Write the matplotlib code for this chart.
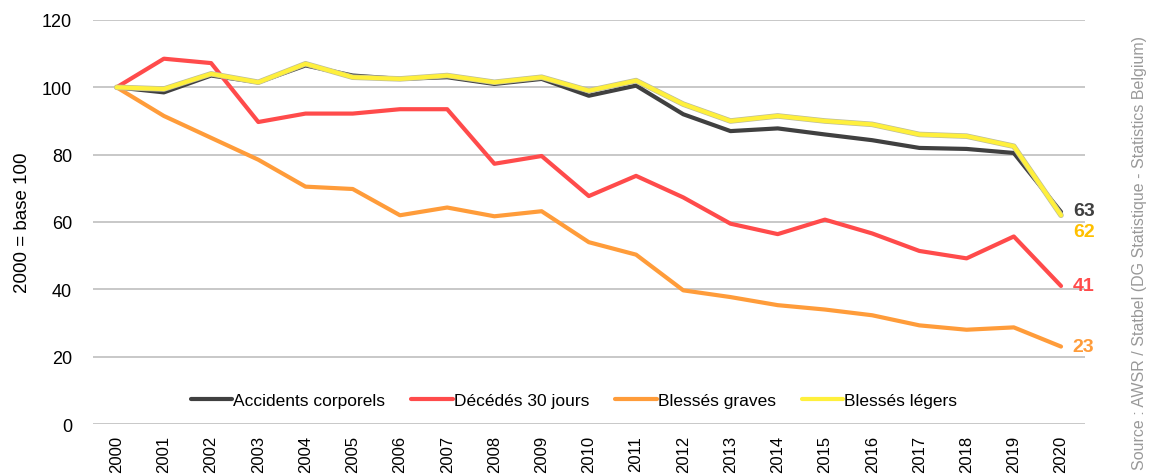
import matplotlib.pyplot as plt
import numpy as np

plt.rcParams['font.family'] = ['Liberation Sans', 'DejaVu Sans']

annees = np.arange(2000, 2021)
accidents = [100, 98.5, 103.5, 101.5, 106.5, 103.5, 102.5, 103, 101, 102.5, 97.5,
             100.5, 92, 87, 87.8, 86, 84.3, 82, 81.7, 80.5, 63]
decedes = [100, 108.5, 107.2, 89.7, 92.2, 92.2, 93.5, 93.5, 77.3, 79.6, 67.7,
           73.7, 67.3, 59.5, 56.4, 60.7, 56.6, 51.4, 49.2, 55.7, 41]
graves = [100, 91.5, 85, 78.5, 70.5, 69.8, 62, 64.3, 61.7, 63.2, 54,
          50.3, 39.7, 37.7, 35.3, 34, 32.3, 29.3, 28, 28.7, 23]
legers = [100, 99.5, 104, 101.5, 107, 103, 102.5, 103.5, 101.5, 103, 99,
          102, 95, 90, 91.5, 90, 89, 86, 85.5, 82.5, 62]

fig = plt.figure(figsize=(11.53, 4.77), dpi=100)
ax = fig.add_axes([0.0807, 0.109, 0.860, 0.847])

ax.plot(annees, accidents, color="#404040", lw=3, label="Accidents corporels", solid_capstyle="round")
ax.plot(annees, decedes, color="#FF4B4B", lw=3, label="Décédés 30 jours", solid_capstyle="round")
ax.plot(annees, graves, color="#FF9C3A", lw=3, label="Blessés graves", solid_capstyle="round")
ax.plot(annees, legers, color="#BDBD9A", lw=4.0, solid_capstyle="round")
ax.plot(annees, legers, color="#FFF03C", lw=3, label="Blessés légers", solid_capstyle="round")

# valeurs finales
ax.text(2020.25, accidents[-1] + 0.3, "63", color="#404040", fontsize=14, fontweight="bold", va="center")
ax.text(2020.25, legers[-1] - 4.7, "62", color="#FFC000", fontsize=14, fontweight="bold", va="center")
ax.text(2020.25, decedes[-1], "41", color="#FF4B4B", fontsize=14, fontweight="bold", va="center")
ax.text(2020.25, graves[-1], "23", color="#FF9C3A", fontsize=14, fontweight="bold", va="center")

ax.set_xlim(1999.5, 2020.5)
ax.set_ylim(0, 120)
ax.set_yticks(range(0, 121, 20))
ax.set_xticks(annees)
ax.set_xticklabels([str(a) for a in annees], rotation=90, fontsize=12)
ax.tick_params(axis="y", labelsize=13, length=0, pad=15)
ax.tick_params(axis="x", length=0, pad=8)
ax.grid(axis="y", color="#BFBFBF", lw=1.2)
ax.set_axisbelow(True)
for s in ax.spines.values():
    s.set_visible(False)
ax.set_ylabel("2000 = base 100", fontsize=13.5, labelpad=8)

ax.legend(loc="lower center", bbox_to_anchor=(0.485, 0.0), ncol=4, frameon=False,
          fontsize=12.5, handlelength=2.4, handletextpad=0.05, columnspacing=1.5)

fig.text(0.988, 0.47, "Source : AWSR / Statbel (DG Statistique - Statistics Belgium)",
         rotation=90, ha="center", va="center", fontsize=11.5, color="#999999")

fig.savefig("out.png", dpi=100)
